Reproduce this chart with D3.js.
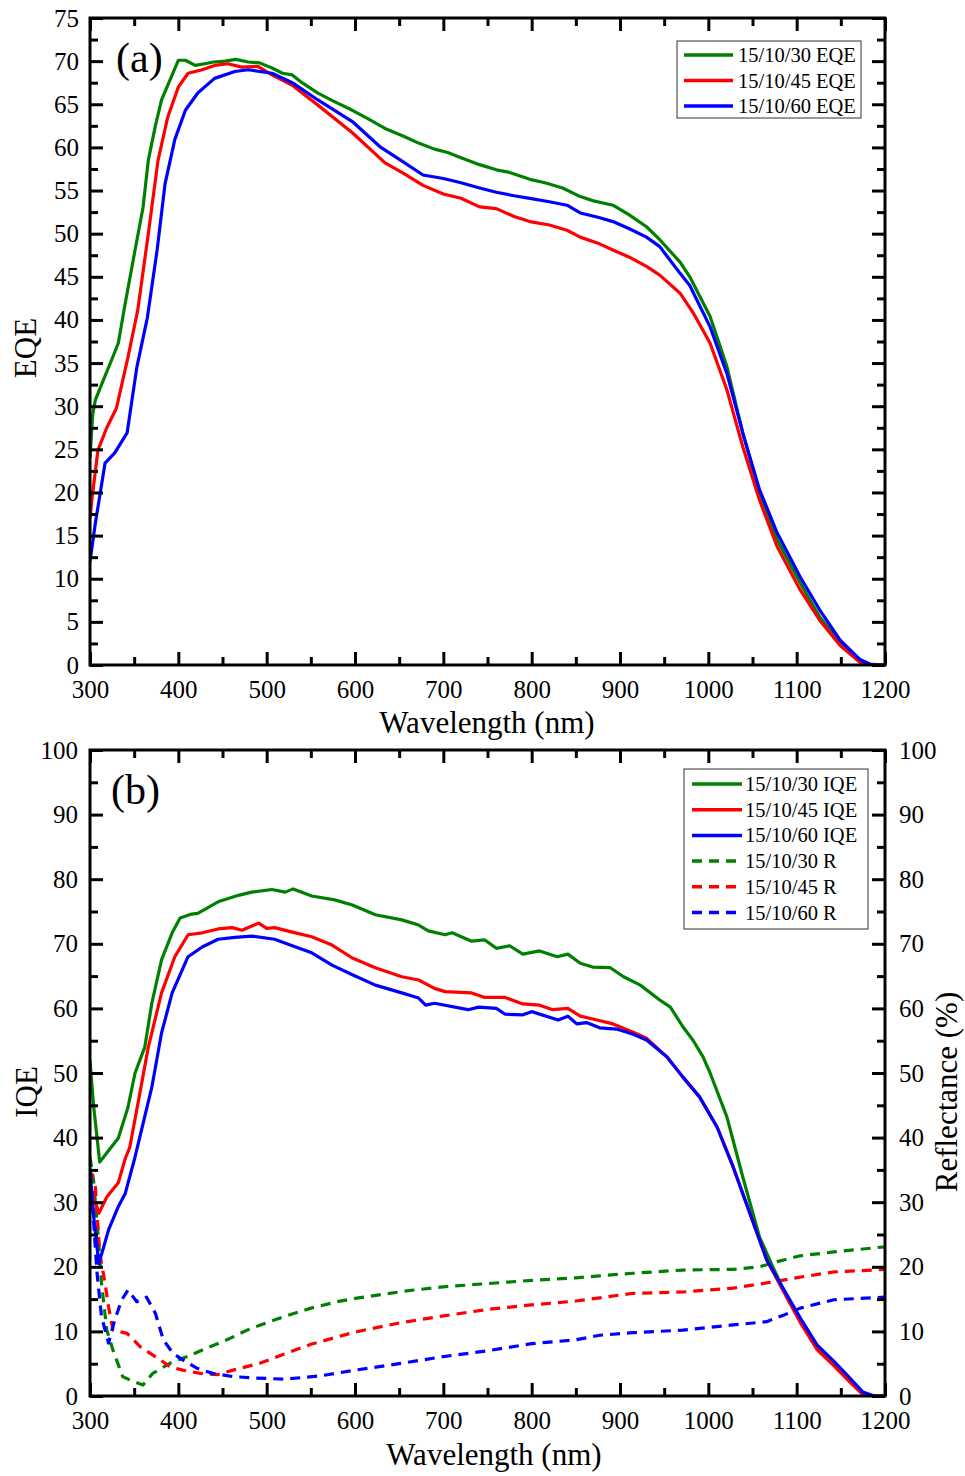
<!DOCTYPE html>
<html><head><meta charset="utf-8">
<script src="https://cdn.jsdelivr.net/npm/d3@7"></script>
<style>body{margin:0;background:#fff}</style>
</head><body>
<svg id="c" width="965" height="1476"></svg>
<script>
// ---------- Panel (a): EQE ----------
const eqe30Wl = [300,303,306,315,325,332,340,351,360,366,374,381,393,400,408,419,430,440,453,465,479,492,506,518,529,540,558,575,597,615,634,655,672,690,705,720,741,760,775,798,815,835,855,870,892,910,930,945,968,979,1002,1021,1039,1058,1078,1104,1126,1149,1172,1183,1200];
const eqe30 = [24,29,30.7,33,35.5,37.3,42,48.1,53,58.5,62.5,65.5,68.4,70.1,70.1,69.5,69.7,69.9,70.0,70.2,69.9,69.8,69.2,68.6,68.4,67.5,66.3,65.4,64.3,63.3,62.2,61.3,60.5,59.8,59.4,58.8,58.0,57.4,57.1,56.3,55.9,55.3,54.3,53.8,53.3,52.2,50.8,49.3,46.7,45.0,40.4,34.6,26.9,19.9,14.5,9.5,5.6,2.5,0.6,0.1,0];
const eqe45Wl = [300,302,309,319,330,343,354,366,377,388,400,411,427,441,456,472,490,506,529,558,597,634,655,677,700,720,741,760,780,798,820,840,855,875,892,910,930,945,968,983,1002,1021,1039,1058,1078,1104,1126,1149,1172,1180,1200];
const eqe45 = [17,19.1,24.9,27.5,29.8,35.7,41.1,50,58.5,63.5,67,68.6,69.0,69.5,69.7,69.3,69.4,68.4,67.2,64.9,61.7,58.2,57.0,55.6,54.6,54.1,53.1,52.9,52.0,51.4,51.0,50.4,49.6,48.9,48.1,47.3,46.2,45.2,43.1,40.8,37.3,31.9,25.3,19.1,13.7,8.7,5.2,2.3,0.3,0,0];
const eqe60Wl = [300,306,317,328,342,353,365,376,385,396,408,422,441,464,479,506,529,558,597,628,655,677,700,720,741,760,780,798,820,840,855,875,892,910,930,945,968,979,1002,1021,1039,1058,1078,1104,1126,1149,1172,1185,1200];
const eqe60 = [12,16.4,23.4,24.6,26.9,34.5,40.3,48.1,55.8,60.9,64.3,66.3,68.0,68.8,69.0,68.6,67.5,65.5,63.0,60.1,58.3,56.8,56.4,55.9,55.3,54.8,54.4,54.1,53.7,53.3,52.4,51.9,51.4,50.6,49.6,48.5,45.4,44.0,39.2,33.8,26.9,20.3,15.3,10.2,6.4,2.9,0.6,0,0];

// ---------- Panel (b): IQE ----------
const iqe30Wl = [300,304,311,320,332,343,351,362,370,381,393,402,415,422,445,468,483,506,521,530,551,577,597,623,653,672,683,702,710,732,747,760,775,790,809,829,841,855,869,889,904,923,945,957,971,983,994,1002,1021,1039,1058,1073,1089,1104,1123,1142,1160,1175,1185,1200];
const iqe30 = [52,45,36.2,37.8,39.9,44.7,50,54,60.8,67.5,71.7,74.0,74.6,74.7,76.5,77.5,78.0,78.4,78.0,78.5,77.4,76.8,76.0,74.5,73.7,72.9,72.0,71.4,71.7,70.4,70.6,69.3,69.7,68.4,68.9,68.0,68.4,67.0,66.4,66.3,64.9,63.6,61.3,60.2,57.2,55.0,52.5,50.0,43.2,33.9,24.6,20.0,15.3,11.8,7.6,5.1,2.5,0.4,0,0];
const iqe45Wl = [300,304,310,319,332,340,345,355,366,381,396,411,427,445,461,472,491,500,509,529,551,574,597,623,653,672,690,702,732,747,770,790,809,824,841,855,874,892,915,930,953,971,990,1010,1028,1047,1066,1085,1104,1123,1142,1160,1175,1185,1200];
const iqe45 = [31,30.8,28.3,30.8,33,36.8,38.5,45.8,54,62.4,68,71.4,71.7,72.3,72.5,72.1,73.2,72.4,72.5,71.8,71.1,69.8,67.8,66.3,64.9,64.4,63.1,62.6,62.4,61.7,61.7,60.7,60.5,59.8,60,58.8,58.2,57.6,56.3,55.4,52.5,49.4,46.3,41.6,35.5,28.3,21.1,16.2,11.4,7.2,4.7,2.2,0.2,0,0];
const iqe60Wl = [300,304,310,321,332,340,351,370,381,393,411,427,445,464,483,509,529,551,574,597,623,653,672,680,690,728,740,760,770,790,800,830,841,851,862,877,896,915,930,953,971,990,1010,1028,1047,1066,1085,1104,1123,1142,1160,1175,1188,1200];
const iqe60 = [35,28,20.5,25.7,29.3,31.4,37,47.8,56.2,62.4,68,69.5,70.7,71.0,71.2,70.7,69.7,68.6,66.7,65.2,63.6,62.4,61.6,60.5,60.8,59.8,60.2,60,59.1,59,59.5,58.2,58.8,57.6,57.8,57,56.8,56.0,55.1,52.5,49.4,46.3,41.6,35.5,28.3,21.1,16.6,12.1,7.9,5.4,2.8,0.6,0,0];

// ---------- Panel (b): Reflectance ----------
const r30Wl = [300,304,309,313,319,326,337,345,360,371,391,410,432,455,478,493,520,550,580,600,630,660,700,750,800,850,877,915,971,1028,1058,1078,1104,1142,1200];
const r30 = [37,33.4,25.2,17.5,10.2,7.1,3,2.5,1.7,3.5,5.1,6.1,7.4,8.7,10.2,11.0,12.3,13.6,14.6,15.1,15.7,16.3,16.9,17.4,17.9,18.3,18.6,19.0,19.5,19.6,20.0,20.8,21.7,22.3,23.1];
const r45Wl = [300,306,311,317,321,326,342,357,376,391,405,425,444,462,493,520,550,600,650,700,750,800,850,877,915,971,1028,1066,1104,1142,1200];
const r45 = [35,32.4,22.1,17.5,13.8,10.2,9.7,7.6,5.9,4.5,4,3.5,3.3,4,5.1,6.5,8.0,9.9,11.3,12.4,13.4,14.1,14.7,15.2,15.9,16.1,16.7,17.5,18.4,19.2,19.6];
const r60Wl = [300,304,308,313,321,328,336,343,353,364,374,383,394,405,421,439,462,485,520,560,600,650,700,750,800,850,877,915,971,1028,1066,1085,1104,1142,1200];
const r60 = [35,27.2,19,12.3,8.2,11.8,14.9,16.4,14.6,15.3,12.8,8.7,6.6,5.6,4.3,3.5,3,2.8,2.6,3.1,4.0,5.0,6.1,7.0,8.1,8.7,9.4,9.8,10.2,11.0,11.5,12.5,13.6,14.9,15.3];

// ---------- labels ----------
const xTicks = [300,400,500,600,700,800,900,1000,1100,1200];
const xMinor = [350,450,550,650,750,850,950,1050,1150];
const yTicksA = [0,5,10,15,20,25,30,35,40,45,50,55,60,65,70,75];
const yMinorA = [2.5,7.5,12.5,17.5,22.5,27.5,32.5,37.5,42.5,47.5,52.5,57.5,62.5,67.5,72.5];
const yTicksB = [0,10,20,30,40,50,60,70,80,90,100];
const yMinorB = [5,15,25,35,45,55,65,75,85,95];
const legendA = ["15/10/30 EQE","15/10/45 EQE","15/10/60 EQE"];
const legendB = ["15/10/30 IQE","15/10/45 IQE","15/10/60 IQE","15/10/30 R","15/10/45 R","15/10/60 R"];
const colors = ["#008000","#ff0000","#0000ff"];

const FONT = "'Liberation Serif','Times New Roman',serif";
const fmt = d3.format("d");
const svg = d3.select("#c");

const L = 90, R = 885;
const x = d3.scaleLinear().domain([300,1200]).range([L,R]);
const yA = d3.scaleLinear().domain([0,75]).range([665,18]);
const yB = d3.scaleLinear().domain([0,100]).range([1396,750]);
const yRefl = d3.scaleLinear().domain([0,100]).range([1396,750]);

const MAJ = 13, MIN = 8;

function styleAxis(g, labels){
  g.select(".domain").remove();
  g.selectAll(".tick line").attr("stroke","#000").attr("stroke-width",3);
  if(!labels) g.selectAll(".tick text").remove();
  else g.selectAll(".tick text").attr("font-family",FONT).attr("font-size",25).attr("fill","#000");
}

function frame(y){
  const top = y.range()[1], bot = y.range()[0];
  svg.append("g").attr("transform",`translate(0,${bot})`)
    .call(d3.axisBottom(x).tickValues(xTicks).tickFormat(fmt).tickSize(-MAJ).tickPadding(15)).call(g=>styleAxis(g,true));
  svg.append("g").attr("transform",`translate(0,${bot})`)
    .call(d3.axisBottom(x).tickValues(xMinor).tickSize(-MIN)).call(g=>styleAxis(g,false));
  svg.append("g").attr("transform",`translate(0,${top})`)
    .call(d3.axisTop(x).tickValues(xTicks).tickSize(-MAJ)).call(g=>styleAxis(g,false));
  svg.append("g").attr("transform",`translate(0,${top})`)
    .call(d3.axisTop(x).tickValues(xMinor).tickSize(-MIN)).call(g=>styleAxis(g,false));
}

function seriesPath(g, xs, ys, y, color, dashed){
  g.append("path").datum(xs.map((d,j)=>[d, ys[j]]))
    .attr("fill","none").attr("stroke",color).attr("stroke-width",3.2)
    .attr("stroke-linejoin","round")
    .attr("stroke-dasharray", dashed ? "10,7" : null)
    .attr("d", d3.line().x(d=>x(d[0])).y(d=>y(d[1])));
}

// ---------------- Panel A ----------------
svg.append("clipPath").attr("id","clipA").append("rect")
  .attr("x",L).attr("y",18).attr("width",R-L).attr("height",665-18);
const gA = svg.append("g").attr("clip-path","url(#clipA)");
[[eqe30Wl,eqe30],[eqe45Wl,eqe45],[eqe60Wl,eqe60]].forEach((s,i)=>seriesPath(gA, s[0], s[1], yA, colors[i], false));
frame(yA);
svg.append("g").attr("transform",`translate(${L},0)`)
  .call(d3.axisLeft(yA).tickValues(yTicksA).tickFormat(fmt).tickSize(-MAJ).tickPadding(11)).call(g=>styleAxis(g,true));
svg.append("g").attr("transform",`translate(${L},0)`)
  .call(d3.axisLeft(yA).tickValues(yMinorA).tickSize(-MIN)).call(g=>styleAxis(g,false));
svg.append("g").attr("transform",`translate(${R},0)`)
  .call(d3.axisRight(yA).tickValues(yTicksA).tickSize(-MAJ)).call(g=>styleAxis(g,false));
svg.append("g").attr("transform",`translate(${R},0)`)
  .call(d3.axisRight(yA).tickValues(yMinorA).tickSize(-MIN)).call(g=>styleAxis(g,false));
svg.append("rect").attr("x",L).attr("y",18).attr("width",R-L).attr("height",665-18)
  .attr("fill","none").attr("stroke","#000").attr("stroke-width",3);

svg.append("text").attr("x",116).attr("y",72).attr("font-family",FONT).attr("font-size",42).text("(a)");
svg.append("text").attr("x",487).attr("y",733).attr("text-anchor","middle").attr("font-family",FONT).attr("font-size",31).text("Wavelength (nm)");
svg.append("text").attr("transform","translate(36,348) rotate(-90)").attr("text-anchor","middle").attr("font-family",FONT).attr("font-size",31).text("EQE");

const legA = svg.append("g");
legA.append("rect").attr("x",677).attr("y",41).attr("width",184).attr("height",77).attr("fill","#fff").attr("stroke","#333").attr("stroke-width",1);
legendA.forEach((t,i)=>{
  const yy = 55 + i*25.5;
  legA.append("line").attr("x1",684).attr("x2",733).attr("y1",yy).attr("y2",yy).attr("stroke",colors[i]).attr("stroke-width",3.5);
  legA.append("text").attr("x",738).attr("y",yy+7).attr("font-family",FONT).attr("font-size",20.5).text(t);
});

// ---------------- Panel B ----------------
svg.append("clipPath").attr("id","clipB").append("rect")
  .attr("x",L).attr("y",750).attr("width",R-L).attr("height",1396-750);
const gB = svg.append("g").attr("clip-path","url(#clipB)");
[[r30Wl,r30],[r45Wl,r45],[r60Wl,r60]].forEach((s,i)=>seriesPath(gB, s[0], s[1], yRefl, colors[i], true));
[[iqe30Wl,iqe30],[iqe45Wl,iqe45],[iqe60Wl,iqe60]].forEach((s,i)=>seriesPath(gB, s[0], s[1], yB, colors[i], false));
frame(yB);
svg.append("g").attr("transform",`translate(${L},0)`)
  .call(d3.axisLeft(yB).tickValues(yTicksB).tickFormat(fmt).tickSize(-MAJ).tickPadding(12)).call(g=>styleAxis(g,true));
svg.append("g").attr("transform",`translate(${L},0)`)
  .call(d3.axisLeft(yB).tickValues(yMinorB).tickSize(-MIN)).call(g=>styleAxis(g,false));
svg.append("g").attr("transform",`translate(${R},0)`)
  .call(d3.axisRight(yRefl).tickValues(yTicksB).tickFormat(fmt).tickSize(-MAJ).tickPadding(14)).call(g=>styleAxis(g,true));
svg.append("g").attr("transform",`translate(${R},0)`)
  .call(d3.axisRight(yRefl).tickValues(yMinorB).tickSize(-MIN)).call(g=>styleAxis(g,false));
svg.append("rect").attr("x",L).attr("y",750).attr("width",R-L).attr("height",1396-750)
  .attr("fill","none").attr("stroke","#000").attr("stroke-width",3);

svg.append("text").attr("x",111).attr("y",804).attr("font-family",FONT).attr("font-size",42).text("(b)");
svg.append("text").attr("x",494).attr("y",1465).attr("text-anchor","middle").attr("font-family",FONT).attr("font-size",31).text("Wavelength (nm)");
svg.append("text").attr("transform","translate(37,1092) rotate(-90)").attr("text-anchor","middle").attr("font-family",FONT).attr("font-size",31).text("IQE");
svg.append("text").attr("transform","translate(957,1092) rotate(-90)").attr("text-anchor","middle").attr("font-family",FONT).attr("font-size",31).text("Reflectance (%)");

const legB = svg.append("g");
legB.append("rect").attr("x",684).attr("y",769).attr("width",184).attr("height",160).attr("fill","#fff").attr("stroke","#333").attr("stroke-width",1);
legendB.forEach((t,i)=>{
  const yy = 784 + i*25.7;
  legB.append("line").attr("x1",692).attr("x2",742).attr("y1",yy).attr("y2",yy).attr("stroke",colors[i%3]).attr("stroke-width",3.5)
    .attr("stroke-dasharray", i>=3 ? "10,7" : null);
  legB.append("text").attr("x",745).attr("y",yy+7).attr("font-family",FONT).attr("font-size",20.5).text(t);
});
</script>
</body></html>
